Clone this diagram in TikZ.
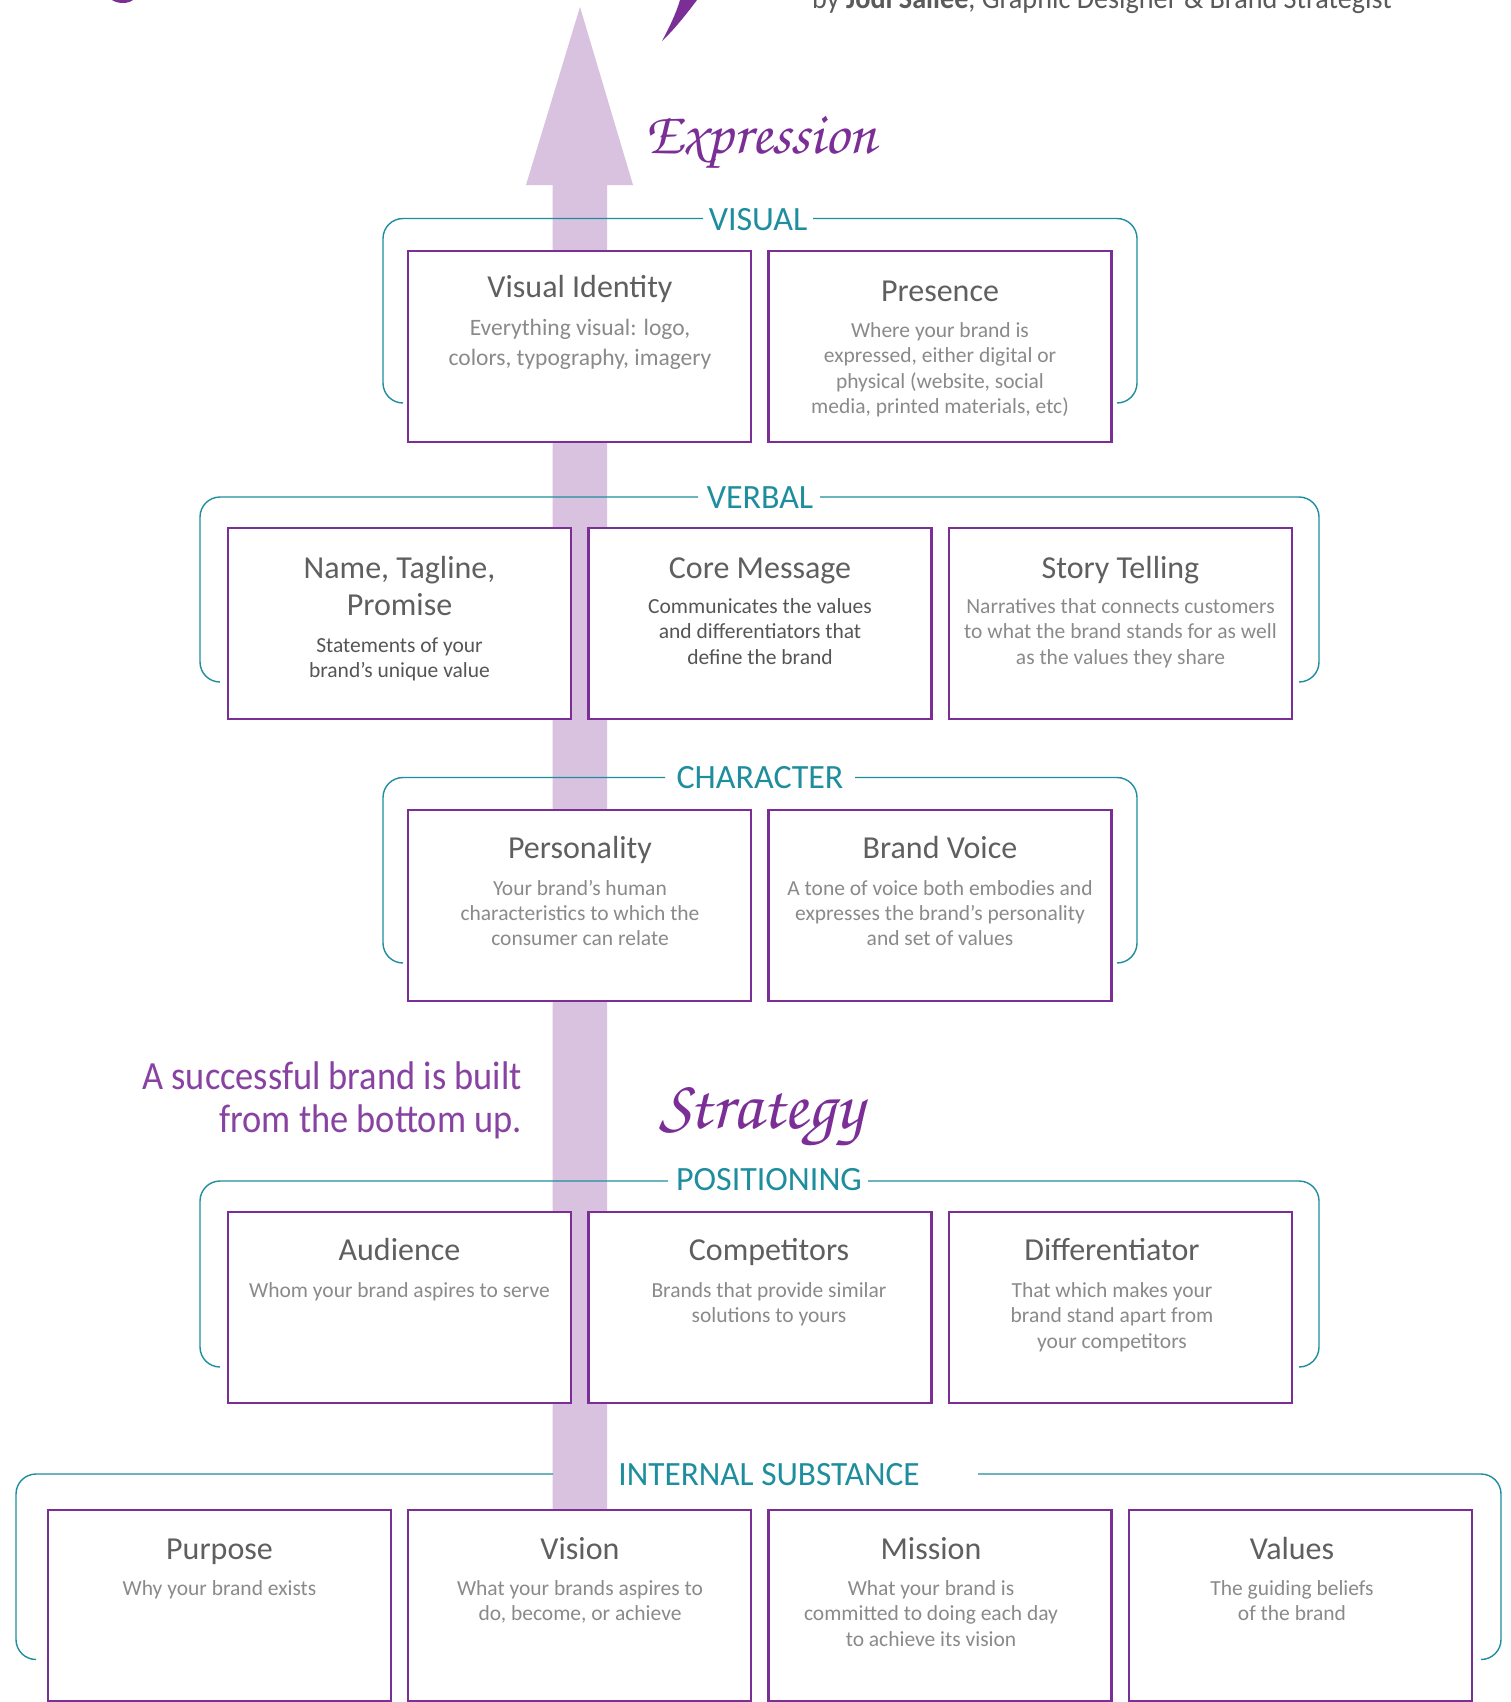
\documentclass[tikz,border=0pt]{standalone}
\usepackage{fontspec}
\setmainfont{Carlito}
\newfontfamily\scriptfnt{texgyrechorus-mediumitalic.otf}
\definecolor{boxpurple}{RGB}{122,46,150}
\definecolor{tagpurple}{RGB}{136,66,162}
\definecolor{arrowlav}{RGB}{216,194,223}
\definecolor{tealc}{RGB}{30,142,158}
\definecolor{titlegray}{RGB}{95,95,95}
\definecolor{descgray}{RGB}{138,138,138}
\definecolor{descdark}{RGB}{85,85,85}
\definecolor{creditgray}{RGB}{90,90,90}
\newcommand\bracketpath[6]{%
  \draw[bkt] ({#1+20},#4) -- (#1,#4) -- (#1,#2) -- (#5,#2);
  \draw[bkt] (#6,#2) -- (#3,#2) -- (#3,#4) -- ({#3-20},#4);}
\newcommand\desclines[6]{%
  \foreach \ln [count=\ii] in {#6} {\node[#2] (#1-\ii) at (#3,{#4+(\ii-1)*#5}) {\ln};}}
\begin{document}
\begin{tikzpicture}[x=1pt,y=-1pt,
  pbox/.style={draw=boxpurple, line width=2.7pt, fill=white, minimum width=343pt, minimum height=191pt, inner sep=0pt, outer sep=0pt, anchor=north west},
  ttl/.style={text=titlegray, font=\fontsize{32}{36}\selectfont, inner sep=0pt, anchor=base},
  dsc/.style={text=descgray, font=\fontsize{21.5}{24}\selectfont, inner sep=0pt, anchor=base},
  dscbig/.style={text=descgray, font=\fontsize{23.5}{26}\selectfont, inner sep=0pt, anchor=base},
  dscd/.style={text=descdark, font=\fontsize{21.5}{24}\selectfont, inner sep=0pt, anchor=base},
  lbl/.style={text=tealc, font=\fontsize{34}{36}\selectfont, inner sep=0pt, anchor=base},
  bkt/.style={draw=tealc, line width=1.4pt, rounded corners=20pt},
  scr/.style={text=boxpurple, font=\scriptfnt\fontsize{60}{60}\selectfont, inner sep=0pt, anchor=base west},
  tag/.style={text=tagpurple, font=\fontsize{40}{44}\selectfont, inner sep=0pt, anchor=base east, xscale=0.91},
]
\useasboundingbox (0,0) rectangle (1511,1702);
\fill[white] (0,0) rectangle (1511,1702);
% header fragments
\node[anchor=base west, text=creditgray, font=\fontsize{30}{30}\selectfont, inner sep=0pt, xscale=0.94] (credit) at (812,9) {by \textbf{Jodi Sallee}, Graphic Designer \& Brand Strategist};
\fill[boxpurple] (680,0) .. controls (676,14) and (668,30) .. (662,41) .. controls (674,30) and (688,12) .. (697,0) -- cycle;
\fill[boxpurple] (112,0) .. controls (118,4) and (128,4) .. (133,0) -- cycle;
% arrow
\fill[arrowlav] (552.5,1510) -- (552.5,185) -- (526,185) -- (580,7) -- (633,185) -- (607,185) -- (607,1510) -- cycle;
% script words
\node[scr] (expr) at (644,153) {Expression};
\node[scr, font=\scriptfnt\fontsize{70}{70}\selectfont] (strat) at (659,1128) {Strategy};
% tagline
\node[tag] (tag1) at (522,1089) {A successful brand is built};
\node[tag] (tag2) at (522,1132) {from the bottom up.};
% brackets and labels
\bracketpath{383}{218.5}{1137}{403}{703}{813}
\node[lbl] (lvisual) at (758,230) {VISUAL};
\bracketpath{200}{497}{1319}{682}{698}{820}
\node[lbl] (lverbal) at (760,508) {VERBAL};
\bracketpath{383}{777.5}{1137}{963}{665}{855}
\node[lbl] (lchar) at (760,788.5) {CHARACTER};
\bracketpath{200}{1181}{1319}{1367}{668}{868}
\node[lbl] (lpos) at (769,1190) {POSITIONING};
\bracketpath{16}{1474}{1501}{1659.5}{553}{978}
\node[lbl, xscale=0.98] (lint) at (769,1485.5) {INTERNAL SUBSTANCE};
% row 1
\node[pbox] (vi) at (408,251) {};
\node[pbox] (pr) at (768.5,251) {};
\node[ttl] (vi-t) at (580,297) {Visual Identity};
\desclines{vi-d}{dscbig}{580}{335}{30}{{Everything visual: logo,},{colors, typography, imagery}}
\node[ttl] (pr-t) at (940,301) {Presence};
\desclines{pr-d}{dsc}{940}{337}{25.5}{{Where your brand is},{expressed, either digital or},{physical (website, social},{media, printed materials, etc)}}
% row 2
\node[pbox] (nt) at (228,528) {};
\node[pbox] (cm) at (588.5,528) {};
\node[pbox] (st) at (949,528) {};
\desclines{nt-t}{ttl}{399.5}{578}{37.5}{{Name, Tagline,},{Promise}}
\desclines{nt-d}{dscd}{399.5}{652}{25.5}{{Statements of your},{brand’s unique value}}
\node[ttl] (cm-t) at (760,578) {Core Message};
\desclines{cm-d}{dscd}{760}{613}{25.5}{{Communicates the values},{and differentiators that},{define the brand}}
\node[ttl] (st-t) at (1120.5,578) {Story Telling};
\desclines{st-d}{dsc}{1120.5}{613}{25.5}{{Narratives that connects customers},{to what the brand stands for as well},{as the values they share}}
% row 3
\node[pbox] (pe) at (408,810) {};
\node[pbox] (bv) at (768.5,810) {};
\node[ttl] (pe-t) at (580,858) {Personality};
\desclines{pe-d}{dsc}{580}{895}{25}{{Your brand’s human},{characteristics to which the},{consumer can relate}}
\node[ttl] (bv-t) at (940,858) {Brand Voice};
\desclines{bv-d}{dsc}{940}{895}{25}{{A tone of voice both embodies and},{expresses the brand's personality},{and set of values}}
% row 4
\node[pbox] (au) at (228,1212) {};
\node[pbox] (co) at (588.5,1212) {};
\node[pbox] (di) at (949,1212) {};
\node[ttl] (au-t) at (399.5,1260) {Audience};
\desclines{au-d}{dsc}{399.5}{1297}{25.8}{{Whom your brand aspires to serve}}
\node[ttl] (co-t) at (769,1260) {Competitors};
\desclines{co-d}{dsc}{769}{1297}{25.8}{{Brands that provide similar},{solutions to yours}}
\node[ttl] (di-t) at (1112,1260) {Differentiator};
\desclines{di-d}{dsc}{1112}{1297}{25.8}{{That which makes your},{brand stand apart from},{your competitors}}
% row 5
\node[pbox] (pu) at (48,1510) {};
\node[pbox] (vs) at (408,1510) {};
\node[pbox] (mi) at (768.5,1510) {};
\node[pbox] (va) at (1129,1510) {};
\node[ttl] (pu-t) at (219.5,1559) {Purpose};
\desclines{pu-d}{dsc}{219.5}{1595}{25.5}{{Why your brand exists}}
\node[ttl] (vs-t) at (580,1559) {Vision};
\desclines{vs-d}{dsc}{580}{1595}{25.5}{{What your brands aspires to},{do, become, or achieve}}
\node[ttl] (mi-t) at (931,1559) {Mission};
\desclines{mi-d}{dsc}{931}{1595}{25.5}{{What your brand is},{committed to doing each day},{to achieve its vision}}
\node[ttl] (va-t) at (1292,1559) {Values};
\desclines{va-d}{dsc}{1292}{1595}{25.5}{{The guiding beliefs},{of the brand}}
\end{tikzpicture}
\end{document}
